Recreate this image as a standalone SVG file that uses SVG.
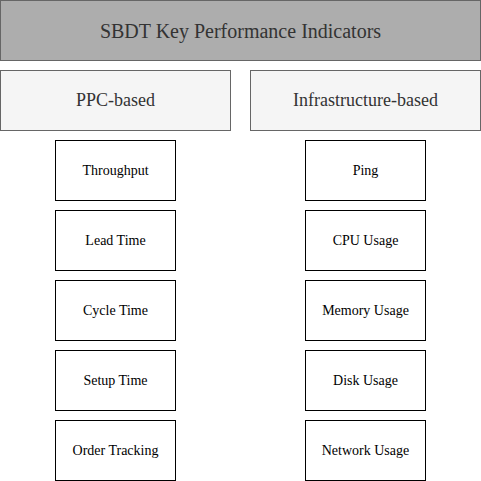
<svg xmlns="http://www.w3.org/2000/svg" width="481" height="481" viewBox="0 0 481 481">
  <style>
    .title rect { fill: #adadad; stroke: #666666; stroke-width: 1; }
    .cat rect { fill: #f5f5f5; stroke: #666666; stroke-width: 1; }
    .kpi rect { fill: #ffffff; stroke: #000000; stroke-width: 1; }
    .title text { font-size: 20px; fill: #333333; }
    .cat text { font-size: 18px; fill: #333333; }
    .kpi text { font-size: 14px; fill: #000000; }
  </style>
  <rect width="481" height="481" fill="#ffffff"/>

  <g font-family="Liberation Serif, 'Times New Roman', serif" text-anchor="middle">
    <g id="title" class="title">
      <rect x="0.5" y="0.5" width="480" height="60"/>
      <text x="240.5" y="38">SBDT Key Performance Indicators</text>
    </g>

    <g id="ppc-based" class="cat">
      <rect x="0.5" y="70.5" width="230" height="60"/>
      <text x="115.5" y="106">PPC-based</text>
    </g>
    <g id="infrastructure-based" class="cat">
      <rect x="250.5" y="70.5" width="230" height="60"/>
      <text x="365.5" y="106">Infrastructure-based</text>
    </g>

    <!-- PPC-based indicators -->
    <g id="throughput" class="kpi">
      <rect x="55.5" y="140.5" width="120" height="60"/>
      <text x="115.5" y="174.5">Throughput</text>
    </g>
    <g id="lead-time" class="kpi">
      <rect x="55.5" y="210.5" width="120" height="60"/>
      <text x="115.5" y="244.5">Lead Time</text>
    </g>
    <g id="cycle-time" class="kpi">
      <rect x="55.5" y="280.5" width="120" height="60"/>
      <text x="115.5" y="314.5">Cycle Time</text>
    </g>
    <g id="setup-time" class="kpi">
      <rect x="55.5" y="350.5" width="120" height="60"/>
      <text x="115.5" y="384.5">Setup Time</text>
    </g>
    <g id="order-tracking" class="kpi">
      <rect x="55.5" y="420.5" width="120" height="60"/>
      <text x="115.5" y="454.5">Order Tracking</text>
    </g>

    <!-- Infrastructure-based indicators -->
    <g id="ping" class="kpi">
      <rect x="305.5" y="140.5" width="120" height="60"/>
      <text x="365.5" y="174.5">Ping</text>
    </g>
    <g id="cpu-usage" class="kpi">
      <rect x="305.5" y="210.5" width="120" height="60"/>
      <text x="365.5" y="244.5">CPU Usage</text>
    </g>
    <g id="memory-usage" class="kpi">
      <rect x="305.5" y="280.5" width="120" height="60"/>
      <text x="365.5" y="314.5">Memory Usage</text>
    </g>
    <g id="disk-usage" class="kpi">
      <rect x="305.5" y="350.5" width="120" height="60"/>
      <text x="365.5" y="384.5">Disk Usage</text>
    </g>
    <g id="network-usage" class="kpi">
      <rect x="305.5" y="420.5" width="120" height="60"/>
      <text x="365.5" y="454.5">Network Usage</text>
    </g>
  </g>

  <g id="connectors"/>
</svg>
